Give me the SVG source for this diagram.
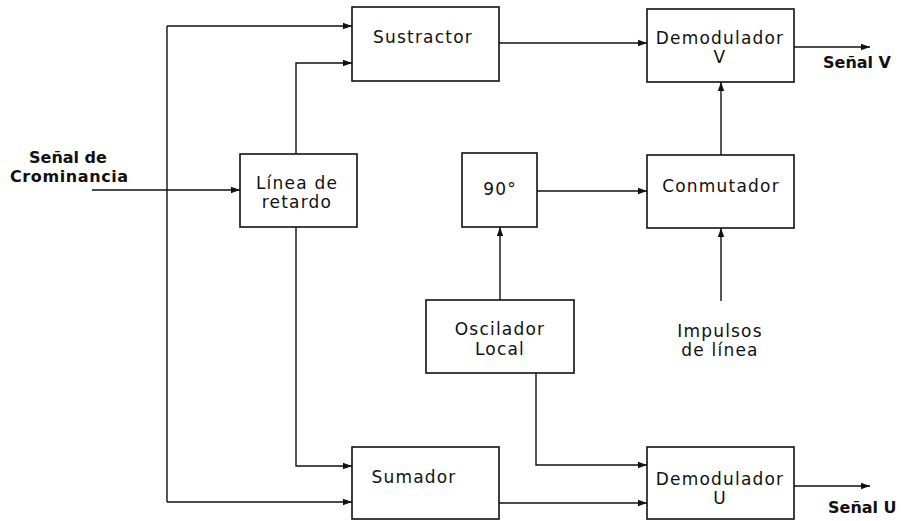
<svg xmlns="http://www.w3.org/2000/svg" width="901" height="521" viewBox="0 0 901 521">
<defs>
<marker id="ah" markerWidth="10" markerHeight="8" refX="9" refY="4" orient="auto" markerUnits="userSpaceOnUse">
<path d="M0,0.8 L9,4 L0,7.2 Z" fill="#111"/>
</marker>
<style>
.box{fill:#fff;stroke:#111;stroke-width:1.6}
.t{font-family:"DejaVu Sans",sans-serif;font-size:17px;letter-spacing:1.2px;fill:#111;text-anchor:middle}
.b{font-family:"DejaVu Sans",sans-serif;font-size:16px;font-weight:bold;fill:#111}
.c{fill:none;stroke:#111;stroke-width:1.4}
.a{marker-end:url(#ah)}
</style>
</defs>
<rect width="901" height="521" fill="#fff"/>
<g id="connectors">
<path class="c a" d="M92,190 H240"/>
<path class="c" d="M167,26 V502"/>
<path class="c a" d="M167,26 H352"/>
<path class="c a" d="M167,502 H352"/>
<path class="c a" d="M296,154 V63 H352"/>
<path class="c a" d="M296,227 V466 H352"/>
<path class="c a" d="M499,43 H647"/>
<path class="c a" d="M499,503 H647"/>
<path class="c a" d="M500,300 V227"/>
<path class="c a" d="M536,373 V465 H647"/>
<path class="c a" d="M537,191 H647"/>
<path class="c a" d="M721,155 V82"/>
<path class="c a" d="M721,301 V228"/>
<path class="c a" d="M794,47 H870"/>
<path class="c a" d="M794,486 H870"/>
</g>
<g id="input-label">
<text class="b" x="29" y="163">Señal de</text>
<text class="b" x="10" y="182" style="letter-spacing:0.6px">Crominancia</text>
</g>
<g id="sustractor">
<rect class="box" x="352" y="7" width="147" height="74"/>
<text class="t" x="423" y="43">Sustractor</text>
</g>
<g id="linea-retardo">
<rect class="box" x="240" y="154" width="117" height="73"/>
<text class="t" x="297" y="189">Línea de</text>
<text class="t" x="297" y="208">retardo</text>
</g>
<g id="sumador">
<rect class="box" x="352" y="447" width="147" height="72"/>
<text class="t" x="414" y="483">Sumador</text>
</g>
<g id="demodulador-v">
<rect class="box" x="647" y="9" width="147" height="73"/>
<text class="t" x="720" y="44">Demodulador</text>
<text class="t" x="720" y="63">V</text>
</g>
<g id="senal-v">
<text class="b" x="823" y="68">Señal V</text>
</g>
<g id="noventa">
<rect class="box" x="462" y="153" width="75" height="74"/>
<text class="t" x="500" y="195">90°</text>
</g>
<g id="conmutador">
<rect class="box" x="647" y="155" width="147" height="73"/>
<text class="t" x="721" y="192">Conmutador</text>
</g>
<g id="oscilador">
<rect class="box" x="426" y="300" width="148" height="73"/>
<text class="t" x="500" y="335">Oscilador</text>
<text class="t" x="500" y="355">Local</text>
</g>
<g id="impulsos">
<text class="t" x="720" y="337">Impulsos</text>
<text class="t" x="720" y="356">de línea</text>
</g>
<g id="demodulador-u">
<rect class="box" x="647" y="447" width="147" height="72"/>
<text class="t" x="720" y="485">Demodulador</text>
<text class="t" x="720" y="504">U</text>
</g>
<g id="senal-u">
<text class="b" x="828" y="513">Señal U</text>
</g>
</svg>
